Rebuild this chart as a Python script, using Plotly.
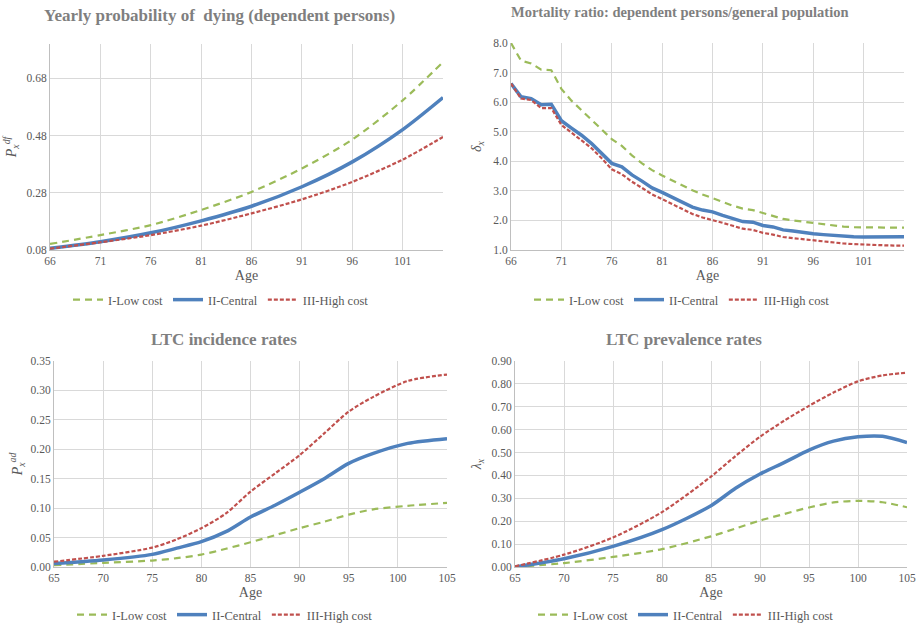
import plotly.graph_objects as go

# ---------------- data ----------------
series_names = ["I-Low cost", "II-Central", "III-High cost"]

# Panel 1: yearly probability of dying (dependent persons)
p1_age = [66, 71, 76, 81, 86, 91, 96, 101, 105]
p1_low = [0.101, 0.132, 0.167, 0.220, 0.283, 0.365, 0.466, 0.603, 0.737]
p1_central = [0.086, 0.109, 0.140, 0.182, 0.233, 0.301, 0.388, 0.501, 0.613]
p1_high = [0.085, 0.107, 0.132, 0.165, 0.208, 0.257, 0.318, 0.396, 0.475]
p1_ticks = [66, 71, 76, 81, 86, 91, 96, 101]
p1_yticks = [0.08, 0.28, 0.48, 0.68]

# Panel 2: mortality ratio
p2_age = list(range(66, 106))
p2_low = [8.0, 7.40, 7.31, 7.10, 7.08, 6.45, 6.05, 5.72, 5.38, 5.05,
          4.75, 4.52, 4.20, 3.93, 3.70, 3.52, 3.35, 3.18, 3.02, 2.88,
          2.75, 2.62, 2.50, 2.40, 2.35, 2.25, 2.15, 2.05, 2.00, 1.96,
          1.91, 1.87, 1.82, 1.79, 1.77, 1.76, 1.76, 1.76, 1.76, 1.76]
p2_central = [6.63, 6.18, 6.12, 5.91, 5.93, 5.37, 5.12, 4.88, 4.60, 4.26,
              3.93, 3.81, 3.54, 3.33, 3.10, 2.95, 2.79, 2.60, 2.45, 2.35,
              2.29, 2.17, 2.05, 1.96, 1.94, 1.83, 1.78, 1.68, 1.64, 1.59,
              1.55, 1.52, 1.49, 1.47, 1.45, 1.44, 1.44, 1.44, 1.44, 1.45]
p2_high = [6.63, 6.12, 6.07, 5.80, 5.80, 5.23, 4.97, 4.71, 4.44, 4.10,
           3.73, 3.56, 3.31, 3.10, 2.88, 2.72, 2.56, 2.38, 2.22, 2.10,
           2.02, 1.92, 1.82, 1.72, 1.68, 1.58, 1.52, 1.44, 1.40, 1.36,
           1.32, 1.28, 1.25, 1.22, 1.20, 1.18, 1.17, 1.16, 1.15, 1.15]
p2_ticks = [66, 71, 76, 81, 86, 91, 96, 101]

# Panel 3: LTC incidence rates
p3_age = [65, 70, 75, 77.5, 80, 82.5, 85, 87.5, 90, 92.5, 95, 97.5, 101, 105]
p3_low = [0.003, 0.007, 0.011, 0.015, 0.021, 0.031, 0.042, 0.054, 0.066, 0.077, 0.089, 0.098, 0.104, 0.109]
p3_central = [0.006, 0.012, 0.0215, 0.032, 0.043, 0.060, 0.085, 0.105, 0.127, 0.150, 0.176, 0.193, 0.210, 0.218]
p3_high = [0.009, 0.019, 0.033, 0.047, 0.066, 0.091, 0.128, 0.159, 0.190, 0.227, 0.264, 0.289, 0.316, 0.327]

# Panel 4: LTC prevalence rates
p4_age = [65, 70, 75, 80, 85, 87.5, 90, 92.5, 95, 97.5, 100, 102.5, 105]
p4_low = [0.0, 0.017, 0.044, 0.078, 0.134, 0.168, 0.203, 0.232, 0.260, 0.282, 0.289, 0.283, 0.261]
p4_central = [0.0, 0.036, 0.090, 0.163, 0.268, 0.344, 0.406, 0.457, 0.511, 0.550, 0.569, 0.571, 0.544]
p4_high = [0.003, 0.054, 0.129, 0.240, 0.395, 0.485, 0.569, 0.640, 0.704, 0.762, 0.811, 0.837, 0.849]

# ---------------- styling ----------------
W, H = 918, 627
FONT = "'Liberation Serif', 'Times New Roman', serif"
TXT = "#595959"
GRID = "#d9d9d9"
colors = ["#9BBB59", "#4F81BD", "#C0504D"]
dashes = ["7px,5px", "solid", "4px,2px"]
widths = [2.2, 3.5, 2.2]


def fx(px):
    return px / W


def fy(py):
    return 1 - py / H


def px_dom_x(a, b):
    return [fx(a), fx(b)]


def px_dom_y(top, bottom):
    return [fy(bottom), fy(top)]


fig = go.Figure()

panels = [
    (p1_age, [p1_low, p1_central, p1_high], "spline", 1),
    (p2_age, [p2_low, p2_central, p2_high], "linear", 2),
    (p3_age, [p3_low, p3_central, p3_high], "spline", 3),
    (p4_age, [p4_low, p4_central, p4_high], "spline", 4),
]

for ages, vals, shape, k in panels:
    sfx = "" if k == 1 else str(k)
    for i, v in enumerate(vals):
        fig.add_trace(go.Scatter(
            x=ages, y=v, mode="lines", name=series_names[i],
            line=dict(color=colors[i], width=widths[i], dash=dashes[i], shape=shape,
                      smoothing=0.8 if shape == "spline" else None),
            xaxis="x" + sfx, yaxis="y" + sfx,
            legend="legend" + sfx,
            hoverinfo="x+y",
        ))

tickfont = dict(family=FONT, size=11.5, color=TXT)
titlefont = dict(family=FONT, size=14, color=TXT)

common_x = dict(showgrid=True, gridcolor=GRID, gridwidth=1, showline=True, linecolor="#bfbfbf",
                linewidth=1, ticks="", tickfont=tickfont, zeroline=False, automargin=False,
                ticklabeloverflow="allow",
                title=dict(text="Age", font=titlefont, standoff=4))
common_y = dict(showgrid=True, gridcolor=GRID, gridwidth=1, showline=True, linecolor="#bfbfbf",
                linewidth=1, ticks="", tickfont=tickfont, zeroline=False, automargin=False,
                ticklabeloverflow="allow")

fig.update_layout(
    width=W, height=H,
    margin=dict(l=0, r=0, t=0, b=0, autoexpand=False),
    paper_bgcolor="white", plot_bgcolor="white",
    font=dict(family=FONT, color=TXT),
    xaxis=dict(common_x, domain=px_dom_x(50, 443), anchor="y", range=[66, 105],
               tickmode="array", tickvals=p1_ticks),
    yaxis=dict(common_y, domain=px_dom_y(44, 250), anchor="x", range=[0.08, 0.80],
               tickmode="array", tickvals=p1_yticks, tickformat=".2f",
               title=dict(text="<i>P</i><sub><i>x</i></sub><sup><i>df</i></sup>", font=titlefont, standoff=6)),
    xaxis2=dict(common_x, domain=px_dom_x(511, 904), anchor="y2", range=[66, 105],
                tickmode="array", tickvals=p2_ticks),
    yaxis2=dict(common_y, domain=px_dom_y(43, 250), anchor="x2", range=[1, 8], dtick=1,
                tickformat=".1f",
                title=dict(text="<i>δ</i><sub><i>x</i></sub>", font=titlefont, standoff=8)),
    xaxis3=dict(common_x, domain=px_dom_x(54, 447), anchor="y3", range=[65, 105], dtick=5),
    yaxis3=dict(common_y, domain=px_dom_y(361, 567), anchor="x3", range=[0, 0.35], dtick=0.05,
                tickformat=".2f",
                title=dict(text="<i>P</i><sub><i>x</i></sub><sup><i>ad</i></sup>", font=titlefont, standoff=4)),
    xaxis4=dict(common_x, domain=px_dom_x(515, 907), anchor="y4", range=[65, 105], dtick=5),
    yaxis4=dict(common_y, domain=px_dom_y(361, 567), anchor="x4", range=[0, 0.9], dtick=0.1,
                tickformat=".2f",
                title=dict(text="<i>λ</i><sub><i>x</i></sub>", font=titlefont, standoff=6)),
)

legfont = dict(family=FONT, size=12.5, color=TXT)
for key, cx, cy in [("legend", 221, 300), ("legend2", 682, 300),
                    ("legend3", 225, 615), ("legend4", 686, 615)]:
    fig.update_layout({key: dict(orientation="h", x=fx(cx), y=fy(cy), xanchor="center",
                                 yanchor="middle", font=legfont, bgcolor="rgba(0,0,0,0)",
                                 itemwidth=30, tracegroupgap=0)})

titles = [
    ("Yearly probability of  dying (dependent persons)", 219, 15, 17),
    ("Mortality ratio: dependent persons/general population", 680, 12, 14.5),
    ("LTC incidence rates", 224, 339, 17),
    ("LTC prevalence rates", 684, 339, 17),
]
for text, cx, cy, sz in titles:
    fig.add_annotation(text="<b>" + text + "</b>", x=fx(cx), y=fy(cy), xref="paper", yref="paper",
                       xanchor="center", yanchor="middle", showarrow=False,
                       font=dict(family=FONT, size=sz, color="#7f7f7f"))

# remove the browser's default 8px body margin so the 918x627 figure fills the window exactly
fig.write_html("out.html", config={"displayModeBar": False},
               post_script="document.body.style.margin='0';document.body.style.overflow='hidden';")
